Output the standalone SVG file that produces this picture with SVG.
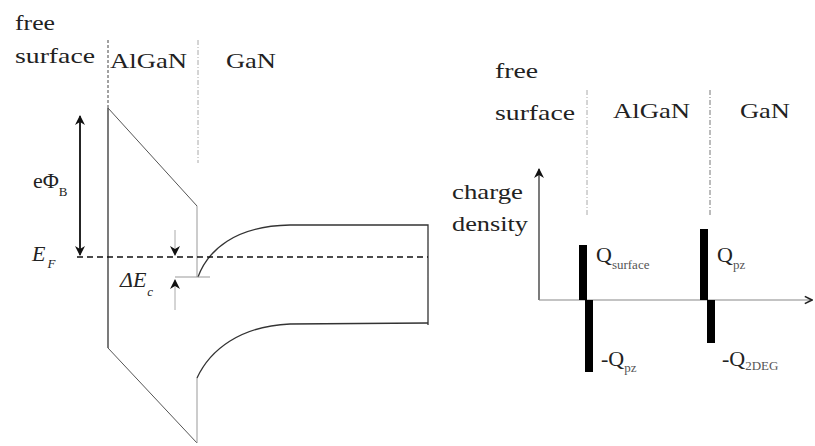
<svg xmlns="http://www.w3.org/2000/svg" width="815" height="446" viewBox="0 0 815 446" font-family="'Liberation Serif', 'DejaVu Serif', serif">
<style>
text{fill:#222;}
.lbl{font-size:22px;}
.sub{font-size:13px;}
.it{font-style:italic;}
.band{fill:none;stroke:#333;stroke-width:1.3;}
.thin{fill:none;stroke:#555;stroke-width:1;}
.gray{fill:none;stroke:#999;stroke-width:1;}
.bnd{fill:none;stroke:#aaa;stroke-width:1;stroke-dasharray:5,2,1,2;}
.bar{fill:#000;}
</style>
<defs>
<marker id="ah" viewBox="0 0 10 10" refX="9" refY="5" markerWidth="10" markerHeight="10" markerUnits="userSpaceOnUse" orient="auto">
<path d="M0,0 L10,5 L0,10 L3,5 z" fill="#111"/>
</marker>
<marker id="ax" viewBox="0 0 10 10" refX="9" refY="5" markerWidth="9" markerHeight="11" markerUnits="userSpaceOnUse" orient="auto">
<path d="M1,1 L9,5 L1,9" fill="none" stroke="#222" stroke-width="1.8"/>
</marker>
</defs>

<g id="left-labels">
<text class="lbl" x="15" y="30" textLength="40" lengthAdjust="spacingAndGlyphs">free</text>
<text class="lbl" x="15" y="63" textLength="80" lengthAdjust="spacingAndGlyphs">surface</text>
<text class="lbl" x="110" y="68" textLength="77" lengthAdjust="spacingAndGlyphs">AlGaN</text>
<text class="lbl" x="226" y="68" textLength="50" lengthAdjust="spacingAndGlyphs">GaN</text>
</g>

<g id="boundaries">
<line class="bnd" x1="108" y1="40" x2="108" y2="108" style="stroke:#444;stroke-dasharray:3,2"/>
<line class="bnd" x1="198" y1="40" x2="198" y2="163"/>
<line class="bnd" x1="587" y1="90" x2="587" y2="217"/>
<line class="bnd" x1="710" y1="90" x2="710" y2="217" style="stroke:#777"/>
</g>

<g id="band-diagram">
<path class="band" d="M108,348 L108,108"/>
<path class="thin" d="M108,108 L197,206"/>
<path class="gray" d="M197,206 L197,277"/>
<path class="band" d="M198,277 C208,250 235,226 290,225 L428,225 L428,325"/>
<path class="thin" d="M108,348 L197,443"/>
<path class="gray" d="M197,443 L197,378"/>
<path class="band" d="M197,378 C210,350 240,326 290,324 L428,323"/>
<line x1="77" y1="257" x2="428" y2="257" stroke="#111" stroke-width="1.4" stroke-dasharray="6,4"/>
<line class="gray" x1="175" y1="277" x2="210" y2="277"/>
</g>

<g id="connectors">
<line x1="80" y1="250" x2="80" y2="116" stroke="#111" stroke-width="1.4" marker-end="url(#ah)"/>
<line x1="80" y1="120" x2="80" y2="255" stroke="#111" stroke-width="1.4" marker-end="url(#ah)"/>
<line x1="175" y1="230" x2="175" y2="255" stroke="#aaa" stroke-width="1" marker-end="url(#ah)"/>
<line x1="175" y1="310" x2="175" y2="280" stroke="#aaa" stroke-width="1" marker-end="url(#ah)"/>
<line x1="539" y1="300" x2="539" y2="169" stroke="#333" stroke-width="1.3" marker-end="url(#ah)"/>
<line x1="539" y1="300" x2="812" y2="300" stroke="#888" stroke-width="1.2" marker-end="url(#ax)"/>
</g>

<g id="band-labels">
<text class="lbl" x="33" y="188">eΦ<tspan class="sub" dy="8">B</tspan></text>
<text class="lbl it" x="32" y="261">E<tspan class="sub" dy="7" dx="2">F</tspan></text>
<text class="lbl it" x="120" y="287">ΔE<tspan class="sub" dy="9" dx="1">c</tspan></text>
</g>

<g id="right-labels">
<text class="lbl" x="495" y="78" textLength="43" lengthAdjust="spacingAndGlyphs">free</text>
<text class="lbl" x="495" y="120" textLength="80" lengthAdjust="spacingAndGlyphs">surface</text>
<text class="lbl" x="613" y="118" textLength="77" lengthAdjust="spacingAndGlyphs">AlGaN</text>
<text class="lbl" x="740" y="118" textLength="50" lengthAdjust="spacingAndGlyphs">GaN</text>
<text class="lbl" x="452" y="199" textLength="71" lengthAdjust="spacingAndGlyphs">charge</text>
<text class="lbl" x="452" y="231" textLength="76" lengthAdjust="spacingAndGlyphs">density</text>
</g>

<g id="charges">
<rect class="bar" x="579" y="245" width="8" height="55"/>
<rect class="bar" x="585" y="300" width="8" height="72"/>
<rect class="bar" x="700" y="229" width="8" height="71"/>
<rect class="bar" x="707" y="300" width="8" height="43"/>
</g>

<g id="charge-labels">
<text class="lbl" x="596" y="262">Q<tspan class="sub" dy="7" fill="#555">surface</tspan></text>
<text class="lbl" x="717" y="262">Q<tspan class="sub" dy="7" fill="#555">pz</tspan></text>
<text class="lbl" x="601" y="366">-Q<tspan class="sub" dy="6" fill="#555">pz</tspan></text>
<text class="lbl" x="722" y="366">-Q<tspan class="sub" dy="4" fill="#555">2DEG</tspan></text>
</g>
</svg>
